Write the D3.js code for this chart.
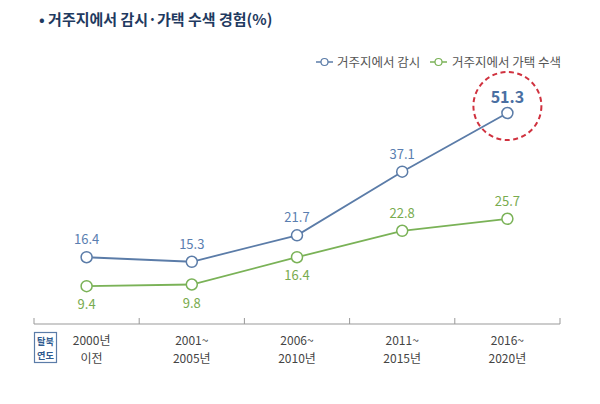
<!DOCTYPE html>
<html><head><meta charset="utf-8">
<script src="https://cdn.jsdelivr.net/npm/d3@7"></script>
<style>
body{margin:0;background:#fff;}
svg{display:block;font-family:"Noto Sans CJK KR","Noto Sans",sans-serif;}
</style></head>
<body>
<svg id="c" width="600" height="404"></svg>
<script>
const categories = [["2000년","이전"],["2001~","2005년"],["2006~","2010년"],["2011~","2015년"],["2016~","2020년"]];
const seriesNames = ["거주지에서 감시","거주지에서 가택 수색"];
const surveillance = [16.4, 15.3, 21.7, 37.1, 51.3];
const search = [9.4, 9.8, 16.4, 22.8, 25.7];
const colors = ["#5b7ca8","#7ab257"];
const labelColors = ["#5a7eb0","#78ab4e"];
const searchLabelPos = ["below","below","below","above","above"];

const svg = d3.select("#c");
const x = d3.scaleBand().domain(d3.range(categories.length)).range([34,560]);
const y = d3.scaleLinear().domain([0,51.3]).range([325,113]);

// title
svg.append("text").attr("x",39).attr("y",25).attr("fill","#1f3a60")
  .attr("font-size",15).attr("font-weight","bold").text("• 거주지에서 감시·가택 수색 경험(%)");

// legend
const leg = [{x:316,tx:337},{x:430,tx:452}];
seriesNames.forEach((n,i)=>{
  const g = svg.append("g");
  g.append("line").attr("x1",leg[i].x).attr("x2",leg[i].x+17).attr("y1",62).attr("y2",62)
    .attr("stroke",colors[i]).attr("stroke-width",1.5);
  g.append("circle").attr("cx",leg[i].x+8.5).attr("cy",62).attr("r",3.5)
    .attr("fill","#fff").attr("stroke",colors[i]).attr("stroke-width",1.2);
  g.append("text").attr("x",leg[i].tx).attr("y",66.5).attr("font-size",12.5).attr("fill","#555").text(n);
});

// axis
const axisY = 324;
svg.append("line").attr("x1",34).attr("x2",560).attr("y1",axisY).attr("y2",axisY)
  .attr("stroke","#999").attr("stroke-width",1);
const bounds = d3.range(categories.length).map(i=>x(i)).concat([x(categories.length-1)+x.bandwidth()]);
bounds.forEach(b=>{
  svg.append("line").attr("x1",b).attr("x2",b).attr("y1",axisY-6).attr("y2",axisY)
    .attr("stroke","#999").attr("stroke-width",1);
});
categories.forEach((c,i)=>{
  const cx = x(i)+x.bandwidth()/2 + (i===0?5:0);
  c.forEach((t,j)=>{
    svg.append("text").attr("x",cx).attr("y",345+j*17.6).attr("text-anchor","middle")
      .attr("font-size",12).attr("fill","#444").text(t);
  });
});
// 탈북 연도 box
svg.append("rect").attr("x",34.5).attr("y",332.5).attr("width",22).attr("height",30)
  .attr("fill","#fff").attr("stroke","#5b7ca8").attr("stroke-width",1.2);
["탈북","연도"].forEach((t,j)=>{
  svg.append("text").attr("x",45.5).attr("y",345+j*13.6).attr("text-anchor","middle")
    .attr("font-size",9.2).attr("font-weight","bold").attr("fill","#2f5a8f").text(t);
});

// lines
const line = d3.line().x((d,i)=>x(i)+x.bandwidth()/2).y(d=>y(d));
[surveillance, search].forEach((s,k)=>{
  svg.append("path").datum(s).attr("d",line).attr("fill","none")
    .attr("stroke",colors[k]).attr("stroke-width",1.8);
});
[surveillance, search].forEach((s,k)=>{
  s.forEach((v,i)=>{
    svg.append("circle").attr("cx",x(i)+x.bandwidth()/2).attr("cy",y(v)).attr("r",5.5)
      .attr("fill","#fff").attr("stroke",colors[k]).attr("stroke-width",1.5);
  });
});

// labels
surveillance.forEach((v,i)=>{
  const cx = x(i)+x.bandwidth()/2;
  const last = i===surveillance.length-1;
  svg.append("text").attr("x",cx).attr("y",y(v)-(last?10:13)).attr("text-anchor","middle")
    .attr("font-size",last?16:13).attr("font-weight",last?"bold":"normal")
    .attr("fill",last?"#4a6fa2":labelColors[0]).text(v.toFixed(1));
});
search.forEach((v,i)=>{
  const cx = x(i)+x.bandwidth()/2;
  const above = searchLabelPos[i]==="above";
  svg.append("text").attr("x",cx).attr("y",above?y(v)-13:y(v)+23).attr("text-anchor","middle")
    .attr("font-size",13).attr("fill",labelColors[1]).text(v.toFixed(1));
});

// highlight circle
const li = surveillance.length-1;
svg.append("circle").attr("cx",x(li)+x.bandwidth()/2).attr("cy",y(surveillance[li])-7).attr("r",34)
  .attr("fill","none").attr("stroke","#d0323f").attr("stroke-width",2).attr("stroke-dasharray","5,3.5");
</script>
</body></html>
